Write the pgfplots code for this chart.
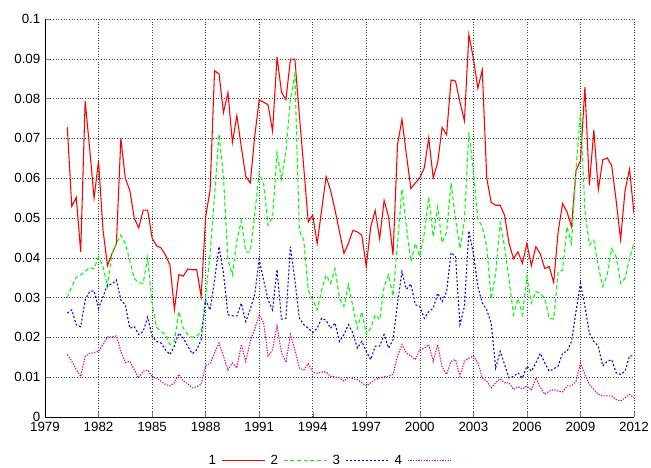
\documentclass[border=0pt]{standalone}
\usepackage{fontspec}
\setmainfont{Liberation Sans}
\usepackage{pgfplots}
\pgfplotsset{compat=1.18}
\usepackage{pgfplotstable}

% quarterly values, four series
\pgfplotstableread{
year a b c d
1980.25 0.0728 0.0300 0.0261 0.0157
1980.5 0.0529 0.0328 0.0269 0.0140
1980.75 0.0552 0.0351 0.0232 0.0119
1981.0 0.0415 0.0357 0.0227 0.0102
1981.25 0.0794 0.0365 0.0294 0.0152
1981.5 0.0675 0.0376 0.0315 0.0160
1981.75 0.0550 0.0372 0.0317 0.0162
1982.0 0.0643 0.0402 0.0273 0.0165
1982.25 0.0470 0.0378 0.0302 0.0182
1982.5 0.0380 0.0328 0.0332 0.0201
1982.75 0.0410 0.0410 0.0334 0.0201
1983.0 0.0435 0.0436 0.0344 0.0204
1983.25 0.0700 0.0457 0.0294 0.0165
1983.5 0.0600 0.0436 0.0282 0.0137
1983.75 0.0570 0.0394 0.0223 0.0140
1984.0 0.0500 0.0348 0.0227 0.0119
1984.25 0.0475 0.0337 0.0207 0.0098
1984.5 0.0520 0.0336 0.0215 0.0115
1984.75 0.0520 0.0400 0.0251 0.0118
1985.0 0.0450 0.0286 0.0203 0.0102
1985.25 0.0430 0.0225 0.0190 0.0097
1985.5 0.0425 0.0215 0.0186 0.0090
1985.75 0.0407 0.0207 0.0169 0.0082
1986.0 0.0382 0.0182 0.0157 0.0078
1986.25 0.0270 0.0190 0.0178 0.0086
1986.5 0.0358 0.0265 0.0211 0.0107
1986.75 0.0354 0.0223 0.0198 0.0090
1987.0 0.0372 0.0207 0.0178 0.0084
1987.25 0.0370 0.0200 0.0159 0.0073
1987.5 0.0370 0.0204 0.0169 0.0076
1987.75 0.0303 0.0212 0.0194 0.0082
1988.0 0.0503 0.0302 0.0294 0.0130
1988.25 0.0570 0.0410 0.0269 0.0134
1988.5 0.0870 0.0557 0.0344 0.0161
1988.75 0.0862 0.0711 0.0428 0.0186
1989.0 0.0765 0.0603 0.0361 0.0153
1989.25 0.0815 0.0394 0.0257 0.0118
1989.5 0.0690 0.0357 0.0254 0.0136
1989.75 0.0757 0.0444 0.0254 0.0123
1990.0 0.0678 0.0493 0.0286 0.0182
1990.25 0.0604 0.0415 0.0240 0.0140
1990.5 0.0588 0.0415 0.0271 0.0190
1990.75 0.0705 0.0510 0.0308 0.0221
1991.0 0.0797 0.0612 0.0396 0.0257
1991.25 0.0791 0.0586 0.0344 0.0236
1991.5 0.0784 0.0482 0.0294 0.0153
1991.75 0.0718 0.0502 0.0269 0.0169
1992.0 0.0905 0.0665 0.0371 0.0229
1992.25 0.0816 0.0598 0.0246 0.0161
1992.5 0.0797 0.0669 0.0248 0.0137
1992.75 0.0899 0.0798 0.0428 0.0207
1993.0 0.0899 0.0861 0.0344 0.0169
1993.25 0.0759 0.0469 0.0248 0.0123
1993.5 0.0626 0.0444 0.0232 0.0118
1993.75 0.0490 0.0319 0.0223 0.0134
1994.0 0.0507 0.0294 0.0212 0.0113
1994.25 0.0436 0.0269 0.0223 0.0110
1994.5 0.0520 0.0319 0.0248 0.0113
1994.75 0.0604 0.0357 0.0243 0.0113
1995.0 0.0569 0.0336 0.0223 0.0102
1995.25 0.0520 0.0373 0.0236 0.0101
1995.5 0.0465 0.0298 0.0190 0.0098
1995.75 0.0411 0.0278 0.0207 0.0090
1996.0 0.0436 0.0332 0.0232 0.0100
1996.25 0.0469 0.0278 0.0211 0.0096
1996.5 0.0465 0.0223 0.0173 0.0094
1996.75 0.0457 0.0265 0.0190 0.0086
1997.0 0.0378 0.0207 0.0165 0.0078
1997.25 0.0478 0.0223 0.0144 0.0086
1997.5 0.0519 0.0257 0.0178 0.0094
1997.75 0.0448 0.0244 0.0178 0.0098
1998.0 0.0544 0.0328 0.0207 0.0101
1998.25 0.0503 0.0357 0.0173 0.0102
1998.5 0.0407 0.0304 0.0194 0.0107
1998.75 0.0684 0.0436 0.0286 0.0153
1999.0 0.0748 0.0573 0.0365 0.0182
1999.25 0.0659 0.0478 0.0321 0.0161
1999.5 0.0574 0.0390 0.0334 0.0153
1999.75 0.0588 0.0436 0.0282 0.0144
2000.0 0.0601 0.0403 0.0278 0.0169
2000.25 0.0626 0.0461 0.0248 0.0173
2000.5 0.0701 0.0553 0.0265 0.0182
2000.75 0.0601 0.0453 0.0273 0.0140
2001.0 0.0639 0.0528 0.0311 0.0182
2001.25 0.0728 0.0438 0.0290 0.0125
2001.5 0.0709 0.0465 0.0315 0.0107
2001.75 0.0847 0.0588 0.0413 0.0140
2002.0 0.0844 0.0498 0.0403 0.0144
2002.25 0.0791 0.0423 0.0232 0.0102
2002.5 0.0744 0.0494 0.0278 0.0140
2002.75 0.0961 0.0715 0.0468 0.0148
2003.0 0.0901 0.0619 0.0411 0.0153
2003.25 0.0826 0.0498 0.0328 0.0137
2003.5 0.0872 0.0478 0.0286 0.0098
2003.75 0.0600 0.0428 0.0269 0.0090
2004.0 0.0539 0.0296 0.0236 0.0073
2004.25 0.0532 0.0361 0.0123 0.0086
2004.5 0.0532 0.0488 0.0165 0.0096
2004.75 0.0507 0.0428 0.0132 0.0086
2005.0 0.0436 0.0344 0.0098 0.0086
2005.25 0.0398 0.0257 0.0102 0.0069
2005.5 0.0415 0.0298 0.0111 0.0076
2005.75 0.0386 0.0257 0.0098 0.0071
2006.0 0.0436 0.0353 0.0128 0.0078
2006.25 0.0380 0.0286 0.0115 0.0067
2006.5 0.0428 0.0315 0.0136 0.0098
2006.75 0.0410 0.0311 0.0160 0.0075
2007.0 0.0373 0.0298 0.0136 0.0057
2007.25 0.0378 0.0248 0.0115 0.0065
2007.5 0.0338 0.0246 0.0121 0.0069
2007.75 0.0465 0.0365 0.0128 0.0065
2008.0 0.0536 0.0369 0.0161 0.0063
2008.25 0.0515 0.0478 0.0165 0.0078
2008.5 0.0478 0.0436 0.0190 0.0078
2008.75 0.0619 0.0623 0.0265 0.0090
2009.0 0.0644 0.0765 0.0336 0.0136
2009.25 0.0829 0.0519 0.0278 0.0107
2009.5 0.0582 0.0432 0.0211 0.0082
2009.75 0.0721 0.0444 0.0190 0.0069
2010.0 0.0571 0.0378 0.0178 0.0057
2010.25 0.0646 0.0328 0.0128 0.0053
2010.5 0.0651 0.0357 0.0140 0.0053
2010.75 0.0632 0.0423 0.0144 0.0053
2011.0 0.0544 0.0403 0.0111 0.0044
2011.25 0.0446 0.0336 0.0107 0.0040
2011.5 0.0569 0.0348 0.0115 0.0048
2011.75 0.0623 0.0398 0.0153 0.0057
2012.0 0.0511 0.0438 0.0154 0.0048
}\ratedata

\begin{document}
\begin{tikzpicture}
\useasboundingbox (-33.75pt,-38.25pt) rectangle (454.5pt,312.75pt);
\begin{axis}[
  at={(0,0)}, anchor=south west,
  scale only axis,
  width=441.75pt, height=298.5pt,
  xmin=1979, xmax=2012,
  ymin=0, ymax=0.1,
  axis lines*=left,
  axis line style={line width=0.6pt},
  xtick={1979,1982,...,2012},
  ytick={0,0.01,...,0.1},
  minor x tick num=2,
  major tick length=4pt,
  minor tick length=2.5pt,
  tick align=inside,
  grid=major,
  grid style={black!75, line width=0.4pt, dash pattern=on 0.6pt off 1.4pt},
  no markers,
  x tick label style={/pgf/number format/1000 sep={}},
  y tick label style={/pgf/number format/fixed, /pgf/number format/precision=2},
  tick label style={/pgf/number format/assume math mode=true},
  legend plot pos=right,
  legend columns=4,
  legend image post style={xscale=1.9, line width=1pt},
  legend style={at={(0.48,-0.11)}, anchor=center, draw=none,
    nodes={inner xsep=3.75pt}},
]
\addplot[color=red, line width=0.8pt] table[x=year, y=a] {\ratedata};
\addlegendentry{1}
\addplot[color=green, line width=0.8pt, dash pattern=on 3pt off 2pt] table[x=year, y=b] {\ratedata};
\addlegendentry{2}
\addplot[color=blue, line width=0.8pt, dash pattern=on 1.5pt off 1.5pt] table[x=year, y=c] {\ratedata};
\addlegendentry{3}
\addplot[color=magenta, line width=0.8pt, dash pattern=on 1pt off 1pt] table[x=year, y=d] {\ratedata};
\addlegendentry{4}
\end{axis}
\end{tikzpicture}
\end{document}
